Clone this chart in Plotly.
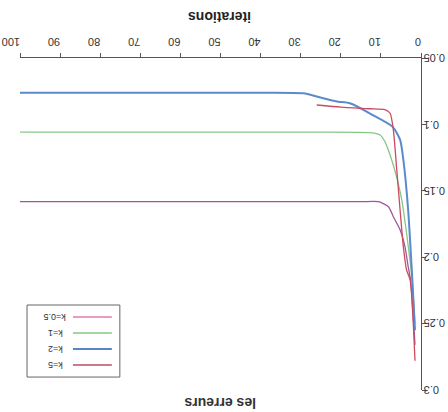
import plotly.graph_objects as go

# Data (iterations, error) per series
it_k05 = [1.5, 2.6, 3.2, 4.0, 5.2, 6.9, 8.1, 10.6, 15, 30, 50, 70, 100]
er_k05 = [0.266, 0.2172, 0.2071, 0.1921, 0.1795, 0.1695, 0.162, 0.1582, 0.1582, 0.1582, 0.1582, 0.1582, 0.1582]

it_k1 = [1.5, 2.3, 3.6, 4.8, 6.1, 7.3, 9, 10.2, 12.7, 30, 50, 70, 100]
er_k1 = [0.25, 0.2147, 0.182, 0.1569, 0.1394, 0.1268, 0.113, 0.108, 0.1062, 0.1058, 0.1058, 0.1058, 0.1058]

it_k2 = [1.5, 2.2, 3.2, 4.4, 5.2, 7.1, 12, 17.7, 20.6, 22.7, 26, 29.3, 40, 60, 80, 100]
er_k2 = [0.255, 0.2147, 0.1645, 0.1268, 0.1117, 0.1017, 0.093, 0.0841, 0.0829, 0.0816, 0.079, 0.0766, 0.0762, 0.0762, 0.0762, 0.0762]

it_k5 = [1.5, 2.7, 3.6, 4.4, 5.2, 6.05, 6.9, 7.7, 9, 12.7, 20, 26]
er_k5 = [0.278, 0.2172, 0.2096, 0.1921, 0.165, 0.134, 0.104, 0.0916, 0.0889, 0.0882, 0.087, 0.0854]

x_ticks = [0, 10, 20, 30, 40, 50, 60, 70, 80, 90, 100]
y_ticks = [0.05, 0.1, 0.15, 0.2, 0.25, 0.3]
y_tick_labels = ["0.05", "0.1", "0.15", "0.2", "0.25", "0.3"]

legend_labels = ["k=0.5", "k=1", "k=2", "k=5"]
legend_colors = ["#e27aae", "#86c986", "#5587c8", "#c24a64"]
line_colors = ["#a0559a", "#86c986", "#5a8bcc", "#cc4a5e"]
line_widths = [1.3, 1.3, 2.0, 1.3]

series = [(it_k05, er_k05), (it_k1, er_k1), (it_k2, er_k2), (it_k5, er_k5)]

fig = go.Figure()
for (xs, ys), c, w, name in zip(series, line_colors, line_widths, legend_labels):
    fig.add_trace(go.Scatter(x=xs, y=ys, mode="lines", name=name,
                             line=dict(color=c, width=w, shape="spline", smoothing=0.6),
                             showlegend=False))

fig.update_layout(
    width=448, height=412,
    margin=dict(l=20, r=27, t=58, b=22, autoexpand=False),
    paper_bgcolor="white", plot_bgcolor="white",
    font=dict(family="Liberation Sans, Arial, sans-serif", size=11, color="#333"),
    xaxis=dict(range=[100, 0], side="top", tickvals=x_ticks, tickangle=180,
               automargin=False,
               showgrid=False, zeroline=False, showline=True, linecolor="#555",
               linewidth=1, ticks="outside", ticklen=4, tickcolor="#555"),
    yaxis=dict(range=[0.3, 0.05], side="right", tickvals=y_ticks, showticklabels=False,
               automargin=False, showgrid=False, zeroline=False, showline=True,
               linecolor="#555", linewidth=1, ticks="outside", ticklen=4, tickcolor="#555"),
)

annotations = [
    dict(text="<b>iterations</b>", x=0.4988, y=1.1235, xref="paper", yref="paper",
         showarrow=False, textangle=180, font=dict(size=14, color="#222"),
         xanchor="center", yanchor="middle"),
    dict(text="<b>les erreurs</b>", x=0.4988, y=-0.039, xref="paper", yref="paper",
         showarrow=False, textangle=180, font=dict(size=14, color="#333"),
         xanchor="center", yanchor="middle"),
]

# upside-down y tick labels, left-aligned just right of the axis
for v, lab in zip(y_ticks, y_tick_labels):
    annotations.append(dict(text=lab, x=1, y=v, xref="paper", yref="y", xshift=1,
                            showarrow=False, textangle=180, font=dict(size=11, color="#333"),
                            xanchor="left", yanchor="middle"))

shapes = [dict(type="rect", xref="paper", yref="paper", x0=0.0175, x1=0.249,
               y0=0.039, y1=0.256, line=dict(color="#666", width=1), fillcolor="white",
               layer="above")]

entry_y = [0.2199, 0.1717, 0.1235, 0.0753]
for lab, col, w, yy in zip(legend_labels, legend_colors, line_widths, entry_y):
    shapes.append(dict(type="line", xref="paper", yref="paper", x0=0.132, x1=0.229,
                       y0=yy, y1=yy, line=dict(color=col, width=w), layer="above"))
    annotations.append(dict(text=lab, x=0.087, y=yy, xref="paper", yref="paper",
                            showarrow=False, textangle=180, font=dict(size=9, color="#333"),
                            xanchor="center", yanchor="middle"))

fig.update_layout(annotations=annotations, shapes=shapes)
fig.write_html("out.html")
